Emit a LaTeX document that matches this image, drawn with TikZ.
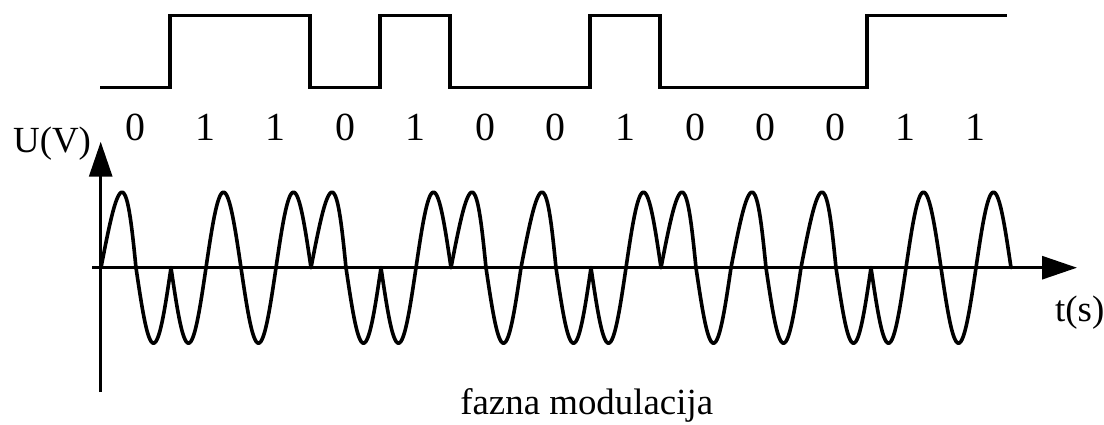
\documentclass[tikz,border=0pt]{standalone}
\usepackage{fontspec}
\setmainfont{Liberation Serif}
\usetikzlibrary{arrows.meta}

\tikzset{
  pulse/.style={line width=3.3bp, line join=miter},
  wave/.style={line width=3.6bp, line cap=round, line join=round},
  axis/.style={line width=3bp, -{Triangle[length=35bp,width=23bp]}},
  bitlabel/.style={anchor=base, inner sep=0pt, font=\fontsize{40}{46}\selectfont},
  axlabel/.style={inner sep=0pt, font=\fontsize{37}{44}\selectfont},
}

\begin{document}
\begin{tikzpicture}[x=1bp,y=-1bp]
  \useasboundingbox (0,0) rectangle (1104,424);

  % binary data signal (low = 87.3, high = 15.7, one bit = 70)
  \draw[pulse] (100,87.3) -- (170,87.3) -- (170,15.7) -- (310,15.7)
    -- (310,87.3) -- (380,87.3) -- (380,15.7) -- (450,15.7)
    -- (450,87.3) -- (590,87.3) -- (590,15.7) -- (660,15.7)
    -- (660,87.3) -- (867,87.3) -- (867,15.7) -- (1007,15.7);

  % bit values under the data signal
  \foreach \b [count=\k from 0] in {0,1,1,0,1,0,0,1,0,0,0,1,1}
    \node[bitlabel] (bit\k) at ({135+70*\k},140) {\b};

  % axes
  \coordinate (O) at (100.7,267.7);
  \coordinate (ybot) at (100.7,392);
  \coordinate (ytop) at (100.7,141.7);
  \coordinate (xleft) at (92,267.7);
  \coordinate (xright) at (1077,267.7);
  \draw[axis] (ybot) -- (ytop);
  \draw[axis] (xleft) -- (xright);

  \node[axlabel, anchor=base west] (ulabel) at (13,152.7) {U(V)};
  \node[axlabel, anchor=base west] (tlabel) at (1055,321) {t(s)};

  % phase-modulated carrier: one period (70) per bit, phase 0 for 0, phase pi for 1
  \foreach \b [count=\k from 0] in {0,1,1,0,1,0,0,1,0,0,0,1,1} {
    \pgfmathsetmacro\sgn{1-2*\b}
    \pgfmathsetmacro\skew{3.5*(1-\b)}
    \pgfmathsetmacro\xo{101+70*\k}
    \draw[wave] plot[variable=\t, domain=0:70, samples=61, smooth]
      ({\xo+\t+\skew*max(0,sin(5.142857*\t))},
       {267.7-(\sgn)*75.5*sin(5.142857*\t)});
  }

  \node[axlabel, anchor=base] (caption) at (586.7,414) {fazna modulacija};
\end{tikzpicture}
\end{document}
